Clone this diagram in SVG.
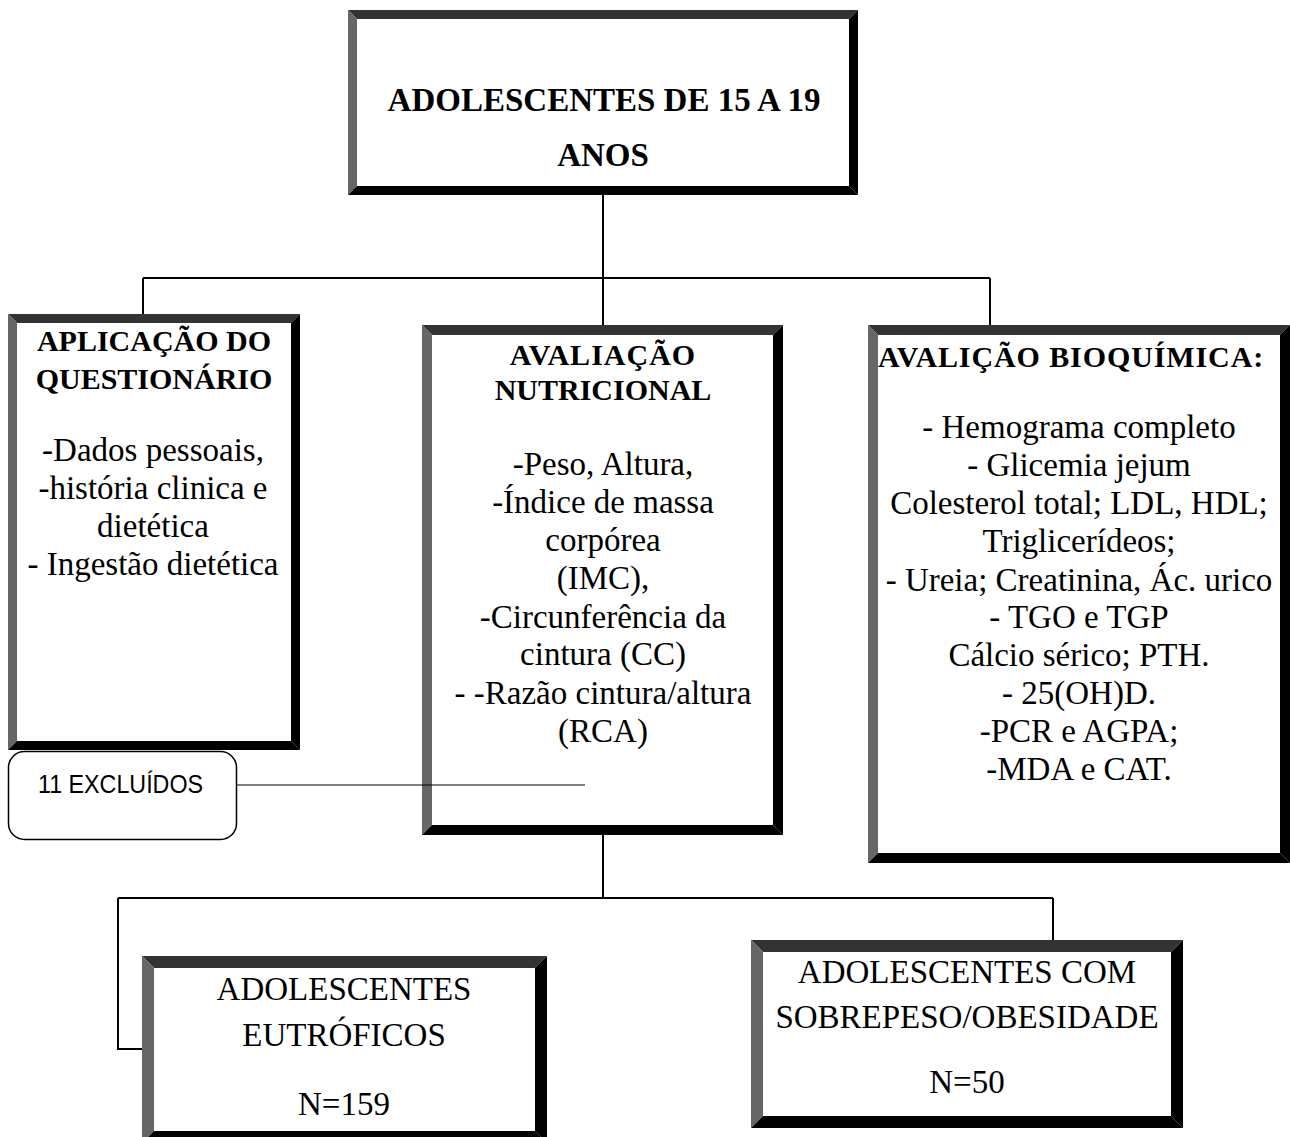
<svg xmlns="http://www.w3.org/2000/svg" width="1290" height="1137" viewBox="0 0 1290 1137">
<style>
.bg{fill:#fff}
.bt{fill:#333}
.bl{fill:#666}
.bk{fill:#000}
.hb{font-family:"Liberation Serif","Times New Roman",serif;font-weight:bold;font-size:30px;fill:#000}
.tx{font-family:"Liberation Serif","Times New Roman",serif;font-size:33px;fill:#000}
.sn{font-family:"Liberation Sans",Arial,sans-serif;font-size:26px;fill:#000}
.c{fill:none;stroke:#000;stroke-width:2}
.c1{fill:none;stroke:#000;stroke-width:1}
</style>
<rect x="0" y="0" width="1290" height="1137" fill="#fff"/>
<g id="node-top">
<rect class="bg" x="348" y="10" width="510" height="185"/>
<polygon class="bt" points="348,10 858,10 849,19 357,19"/>
<polygon class="bl" points="348,10 357,19 357,186 348,195"/>
<polygon class="bk" points="858,10 858,195 849,186 849,19"/>
<polygon class="bk" points="348,195 858,195 849,186 357,186"/>
<text class="hb" x="604" y="111" text-anchor="middle" style="font-size:33px">ADOLESCENTES DE 15 A 19</text>
<text class="hb" x="603" y="166" text-anchor="middle" style="font-size:33px">ANOS</text>
</g>
<g id="node-questionario">
<rect class="bg" x="8" y="314" width="292" height="436"/>
<polygon class="bt" points="8,314 300,314 291,323 17,323"/>
<polygon class="bl" points="8,314 17,323 17,741 8,750"/>
<polygon class="bk" points="300,314 300,750 291,741 291,323"/>
<polygon class="bk" points="8,750 300,750 291,741 17,741"/>
<text class="hb" x="154" y="351" text-anchor="middle">APLICAÇÃO DO</text>
<text class="hb" x="154" y="389" text-anchor="middle">QUESTIONÁRIO</text>
<text class="tx" x="153" y="461" text-anchor="middle">-Dados pessoais,</text>
<text class="tx" x="153" y="499" text-anchor="middle">-história clinica e</text>
<text class="tx" x="153" y="537" text-anchor="middle">dietética</text>
<text class="tx" x="153" y="575" text-anchor="middle">- Ingestão dietética</text>
</g>
<g id="node-nutricional">
<rect class="bg" x="422" y="325" width="361" height="510"/>
<polygon class="bt" points="422,325 783,325 773,335 432,335"/>
<polygon class="bl" points="422,325 432,335 432,825 422,835"/>
<polygon class="bk" points="783,325 783,835 773,825 773,335"/>
<polygon class="bk" points="422,835 783,835 773,825 432,825"/>
<text class="hb" x="603" y="365" text-anchor="middle" letter-spacing="1">AVALIAÇÃO</text>
<text class="hb" x="603" y="400" text-anchor="middle">NUTRICIONAL</text>
<text class="tx" x="603" y="475" text-anchor="middle">-Peso, Altura,</text>
<text class="tx" x="603" y="513" text-anchor="middle">-Índice de massa</text>
<text class="tx" x="603" y="551" text-anchor="middle">corpórea</text>
<text class="tx" x="603" y="589" text-anchor="middle">(IMC),</text>
<text class="tx" x="603" y="628" text-anchor="middle">-Circunferência da</text>
<text class="tx" x="603" y="665" text-anchor="middle">cintura (CC)</text>
<text class="tx" x="603" y="704" text-anchor="middle">- -Razão cintura/altura</text>
<text class="tx" x="603" y="742" text-anchor="middle">(RCA)</text>
</g>
<g id="node-bioquimica">
<rect class="bg" x="868" y="325" width="422" height="538"/>
<polygon class="bt" points="868,325 1290,325 1280,335 878,335"/>
<polygon class="bl" points="868,325 878,335 878,853 868,863"/>
<polygon class="bk" points="1290,325 1290,863 1280,853 1280,335"/>
<polygon class="bk" points="868,863 1290,863 1280,853 878,853"/>
<text class="hb" x="878" y="367" letter-spacing="0.9">AVALIÇÃO BIOQUÍMICA:</text>
<text class="tx" x="1079" y="438" text-anchor="middle">- Hemograma completo</text>
<text class="tx" x="1079" y="476" text-anchor="middle">- Glicemia jejum</text>
<text class="tx" x="1079" y="514" text-anchor="middle">Colesterol total; LDL, HDL;</text>
<text class="tx" x="1079" y="552" text-anchor="middle">Triglicerídeos;</text>
<text class="tx" x="1079" y="591" text-anchor="middle">- Ureia; Creatinina, Ác. urico</text>
<text class="tx" x="1079" y="628" text-anchor="middle">- TGO e TGP</text>
<text class="tx" x="1079" y="666" text-anchor="middle">Cálcio sérico; PTH.</text>
<text class="tx" x="1079" y="704" text-anchor="middle">- 25(OH)D.</text>
<text class="tx" x="1079" y="742" text-anchor="middle">-PCR e AGPA;</text>
<text class="tx" x="1079" y="780" text-anchor="middle">-MDA e CAT.</text>
</g>
<g id="node-excluidos">
<rect x="8.5" y="751.5" width="228" height="88" rx="16" ry="16" fill="#fff" stroke="#000" stroke-width="1.5"/>
<text class="sn" x="38" y="793" textLength="165" lengthAdjust="spacingAndGlyphs">11 EXCLUÍDOS</text>
</g>
<g id="node-eutroficos">
<rect class="bg" x="142" y="956" width="405" height="187"/>
<polygon class="bt" points="142,956 547,956 535,968 154,968"/>
<polygon class="bl" points="142,956 154,968 154,1131 142,1143"/>
<polygon class="bk" points="547,956 547,1143 535,1131 535,968"/>
<polygon class="bk" points="142,1143 547,1143 535,1131 154,1131"/>
<text class="tx" x="344" y="1000" text-anchor="middle">ADOLESCENTES</text>
<text class="tx" x="344" y="1046" text-anchor="middle">EUTRÓFICOS</text>
<text class="tx" x="344" y="1115" text-anchor="middle">N=159</text>
</g>
<g id="node-sobrepeso">
<rect class="bg" x="751" y="940" width="432" height="188"/>
<polygon class="bt" points="751,940 1183,940 1171,952 763,952"/>
<polygon class="bl" points="751,940 763,952 763,1116 751,1128"/>
<polygon class="bk" points="1183,940 1183,1128 1171,1116 1171,952"/>
<polygon class="bk" points="751,1128 1183,1128 1171,1116 763,1116"/>
<text class="tx" x="967" y="983" text-anchor="middle">ADOLESCENTES COM</text>
<text class="tx" x="967" y="1028" text-anchor="middle">SOBREPESO/OBESIDADE</text>
<text class="tx" x="967" y="1093" text-anchor="middle">N=50</text>
</g>
<g id="connectors">
<path class="c" d="M603,195 V278"/>
<path class="c" d="M143,278 H990"/>
<path class="c" d="M143,278 V314"/>
<path class="c" d="M603,278 V325"/>
<path class="c" d="M990,278 V325"/>
<path class="c" d="M603,835 V898"/>
<path class="c" d="M118,898 H1053"/>
<path class="c" d="M118,898 V1049 H142"/>
<path class="c" d="M1053,898 V940"/>
<path class="c1" d="M237,785 H585"/>
</g>
</svg>
